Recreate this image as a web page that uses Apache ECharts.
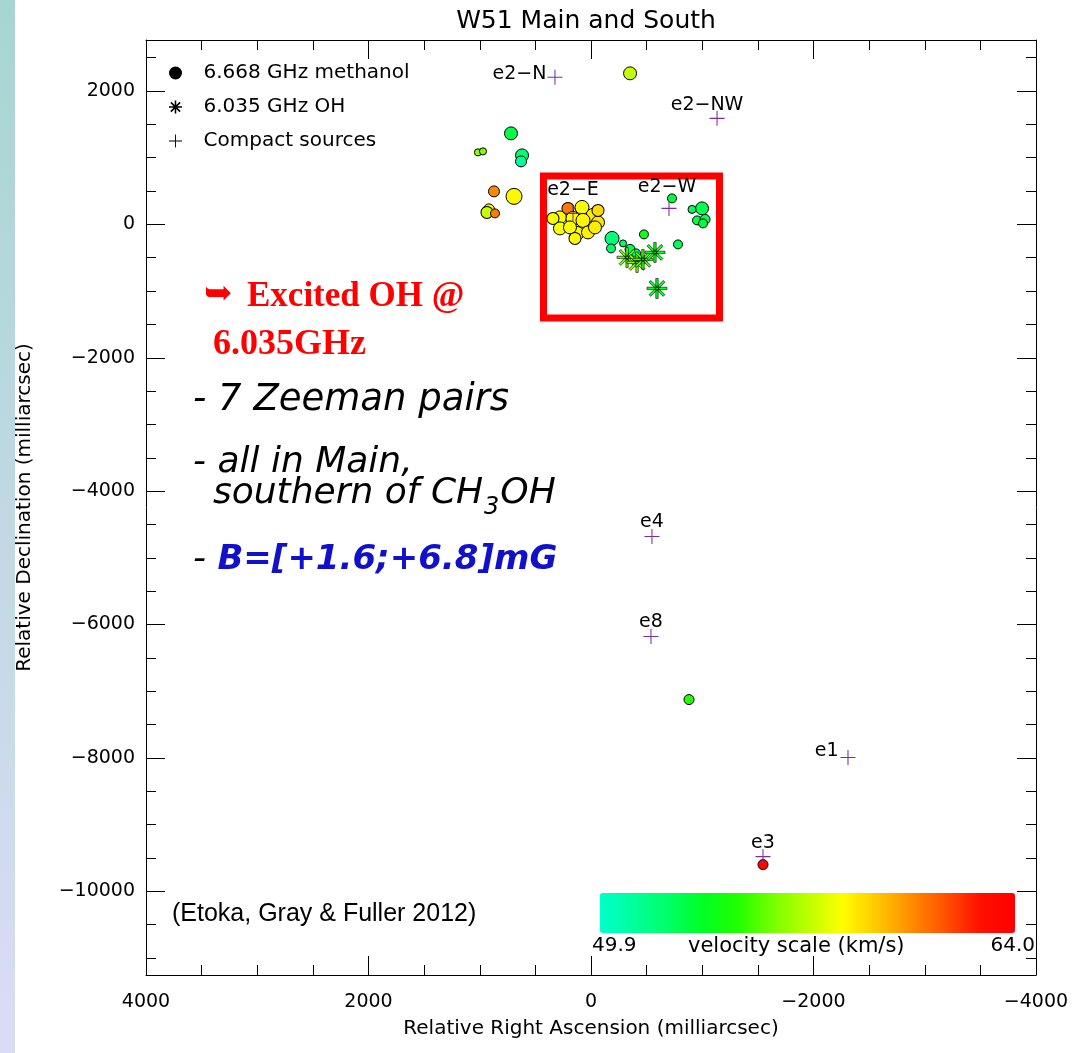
<!DOCTYPE html>
<html>
<head>
<meta charset="utf-8">
<script src="https://cdn.jsdelivr.net/npm/echarts@6/dist/echarts.min.js"></script>
<style>
html, body { margin: 0; padding: 0; background: #fff; }
#main { width: 1073px; height: 1053px; }
</style>
</head>
<body>
<div id="main"></div>
<script>
// 6.668 GHz methanol spots: RA / Dec offsets (mas), velocity (km/s), peak flux (Jy, rough)
var methRA   = [-351, 719, 1016, 971, 620, 629, 872, 692, 917, 935, 863,
                279, 207, 81, -18, 162, 72, 279, 126, 27, -63, -36, 342, 189, 144, -63,
                -728, -998, -908, -953, -1025, -1007,
                -476, -782, -189, -180, -288, -351, -405,
                -881, -1546];
var methDec  = [2265, 1365, 1080, 1095, 1035, 945, 495, 420, 225, 180, 165,
                105, 240, 255, 135, 90, 60, -60, -135, -120, 30, -45, 90, -45, -210, 210,
                390, 240, 225, 60, 75, 15,
                -150, -300, -210, -360, -285, -375, -435,
                -7125, -9600];
var methVel  = [57.1, 52.8, 56.3, 56.0, 52.0, 51.0, 60.6, 58.3, 58.4, 57.2, 60.8,
                58.2, 60.8, 58.0, 58.5, 58.1, 58.3, 58.0, 58.2, 58.4, 58.7, 58.5, 57.9, 58.1, 58.3, 58.9,
                53.0, 52.6, 52.3, 52.8, 52.4, 53.0,
                53.8, 52.6, 51.8, 52.2, 52.5, 52.4, 52.0,
                54.6, 63.6];
var methFlux = [7.8, 7.8, 0.2, 0.2, 7.8, 4, 4, 16, 4, 5.8, 1.4,
                7.8, 5.8, 10.2, 10.2, 10.2, 10.2, 7.8, 10.2, 7.8, 7.8, 7.8, 5.8, 7.8, 5.8, 5.8,
                1.4, 7.8, 0.64, 1.4, 2.6, 1.4,
                1.4, 1.4, 10.2, 1.4, 0.16, 2.6, 1.4,
                2.6, 2.6];

// 6.035 GHz OH spots
var ohRA  = [-324, -414, -467, -575, -593];
var ohDec = [-495, -570, -525, -420, -960];
var ohVel = [55.5, 56.0, 55.0, 53.8, 53.5];

// compact continuum sources
var srcNames = ['e2\u2212N', 'e2\u2212NW', 'e2\u2212E', 'e2\u2212W', 'e4', 'e8', 'e1', 'e3'];
var srcRA    = [324, -1133, 162, -701, -548, -539, -2310, -1546];
var srcDec   = [2205, 1590, 165, 240, -4680, -6180, -7995, -9480];

var velRange = [49.9, 64.0];
var raRange  = [-4000, 4000];
var decRange = [-11255, 2765];
var decMajor = [-10000, -8000, -6000, -4000, -2000, 0, 2000];
var decMinor = [-11000, -10500, -9500, -9000, -8500, -7500, -7000, -6500, -5500, -5000,
                -4500, -3500, -3000, -2500, -1500, -1000, -500, 500, 1000, 1500, 2500];
// red box round e2-E / e2-W (RA, Dec corners)
var boxCorners = [[427, 727], [-1155, -1402]];

var FONT = 'DejaVu Sans';
var starPath = 'path://M0,8.8H20V11.2H0Z M8.8,0H11.2V20H8.8Z M3.75,2.05L17.95,16.25L16.25,17.95L2.05,3.75Z M17.95,3.75L3.75,17.95L2.05,16.25L16.25,2.05Z';
var plusPath = 'path://M0,9.3H20V10.7H0Z M9.3,0H10.7V20H9.3Z';

var methData = methRA.map(function (ra, i) {
	return [ra, methDec[i], methVel[i], methFlux[i]];
});
var ohData = ohRA.map(function (ra, i) {
	return [ra, ohDec[i], ohVel[i]];
});
var labelPlace = {
	'e2\u2212N': { position: 'left', distance: 1, offset: [0, -3] },
	'e2\u2212NW': { position: 'top', distance: 0, offset: [-10, 4] },
	'e2\u2212E': { position: 'top', distance: 6, offset: [0, 0] },
	'e2\u2212W': { position: 'top', distance: 4, offset: [-2, 0] },
	'e1': { position: 'left', distance: 2, offset: [0, -7] }
};
var srcData = srcNames.map(function (n, i) {
	var lp = labelPlace[n] || { position: 'top', distance: 0, offset: [0, 3] };
	return {
		name: n,
		value: [srcRA[i], srcDec[i]],
		label: { position: lp.position, distance: lp.distance, offset: lp.offset }
	};
});

function minus(v) {
	return String(v).replace('-', '\u2212');
}

// measure text so the CH3OH subscript can be placed
var mctx = document.createElement('canvas').getContext('2d');
function textW(str, font) {
	mctx.font = font;
	return mctx.measureText(str).width;
}
var ITAL = 'italic 36px "DejaVu Sans"';
var SUB = 'italic 24px "DejaVu Sans"';
var subX = 213 + textW('southern of CH', ITAL) + 1;
var ohX = subX + textW('3', SUB) + 1;

var chart = echarts.init(document.getElementById('main'));

function yAx(pos, vals, len, withLine, withLabel) {
	return {
		type: 'value', position: pos, min: decRange[0], max: decRange[1],
		axisLine: { show: withLine, onZero: false, lineStyle: { color: '#000', width: 1 } },
		axisTick: { show: true, inside: true, length: len, customValues: vals,
			lineStyle: { color: '#000', width: 1 } },
		axisLabel: withLabel ? {
			show: true, customValues: decMajor, formatter: minus, margin: 11,
			color: '#000', fontFamily: FONT, fontSize: 19
		} : { show: false },
		splitLine: { show: false }
	};
}

function xAx(pos, withLabel) {
	return {
		type: 'value', position: pos, min: raRange[0], max: raRange[1], interval: 2000,
		inverse: true,
		axisLine: { show: true, onZero: false, lineStyle: { color: '#000', width: 1 } },
		axisTick: { show: true, inside: true, length: 19, lineStyle: { color: '#000', width: 1 } },
		minorTick: { show: true, splitNumber: 4, length: 10, lineStyle: { color: '#000', width: 1 } },
		axisLabel: withLabel ? {
			show: true, formatter: minus, margin: 18,
			color: '#000', fontFamily: FONT, fontSize: 19
		} : { show: false },
		splitLine: { show: false },
		minorSplitLine: { show: false }
	};
}

var xBottom = xAx('bottom', true);
xBottom.name = 'Relative Right Ascension (milliarcsec)';
xBottom.nameLocation = 'middle';
xBottom.nameGap = 44;
xBottom.nameTextStyle = { color: '#000', fontFamily: FONT, fontSize: 20 };

var yLeft = yAx('left', decMajor, 19, true, true);
yLeft.name = 'Relative Declination (milliarcsec)';
yLeft.nameLocation = 'middle';
yLeft.nameGap = 111;
yLeft.nameTextStyle = { color: '#000', fontFamily: FONT, fontSize: 20 };

var shadowGrey = { textShadowColor: 'rgba(0,0,0,0.3)', textShadowOffsetX: 2, textShadowOffsetY: 2 };
function ital(left, top, str, font) {
	return {
		type: 'text', left: left, top: top, z: 100,
		style: Object.assign({ text: str, fill: '#000', font: font }, shadowGrey)
	};
}

var option = {
	animation: false,
	backgroundColor: '#fff',
	title: {
		text: 'W51 Main and South',
		left: 581, top: 4, textAlign: 'center',
		textStyle: { color: '#000', fontFamily: FONT, fontSize: 25, fontWeight: 'normal' }
	},
	grid: { left: 146, right: 37, top: 40, bottom: 78, outerBoundsMode: 'none' },
	xAxis: [xBottom, xAx('top', false)],
	yAxis: [
		yLeft,
		yAx('left', decMinor, 10, false, false),
		yAx('right', decMajor, 19, true, false),
		yAx('right', decMinor, 10, false, false)
	],
	legend: {
		orient: 'vertical', left: 164, top: 58,
		itemWidth: 46, itemHeight: 13, itemGap: 14,
		selectedMode: false,
		textStyle: { color: '#000', fontFamily: FONT, fontSize: 20 },
		data: [
			{ name: '6.668 GHz methanol', icon: 'circle', itemStyle: { color: '#000', borderWidth: 0 } },
			{ name: '6.035 GHz OH', icon: starPath, itemStyle: { color: '#000', borderWidth: 0 } },
			{ name: 'Compact sources', icon: plusPath, itemStyle: { color: '#000', borderWidth: 0 } }
		]
	},
	visualMap: {
		type: 'continuous',
		min: velRange[0], max: velRange[1],
		dimension: 2, seriesIndex: [0, 1],
		orient: 'horizontal', left: 600, top: 893,
		itemWidth: 40, itemHeight: 415,
		padding: 0, calculable: false, hoverLink: false,
		inRange: {
			color: ['#00ffcc', '#00ff99', '#00ff66', '#00ff22', '#22ff00', '#77ff00', '#bbff00',
				'#ffff00', '#ffc800', '#ff8c00', '#ff5000', '#ff1000', '#ff0000']
		}
	},
	graphic: [
		{
			type: 'rect', left: 0, top: 0, z: -10,
			shape: { width: 15, height: 1053 },
			style: { fill: new echarts.graphic.LinearGradient(0, 0, 0, 1, [
				{ offset: 0, color: '#a7d5d1' }, { offset: 1, color: '#dadcf6' }]) }
		},
		{
			type: 'text', left: 204, top: 278, z: 100,
			style: { text: '\u27A5', fill: '#ff0000', font: '34px "DejaVu Sans"',
				textShadowColor: '#4a0000', textShadowOffsetX: 2, textShadowOffsetY: 2 }
		},
		{
			type: 'text', left: 247, top: 279, z: 100,
			style: { text: 'Excited OH @', fill: '#ff0000',
				font: 'bold 35px "Liberation Serif"',
				textShadowColor: '#4a0000', textShadowOffsetX: 2, textShadowOffsetY: 2 }
		},
		{
			type: 'text', left: 213, top: 327, z: 100,
			style: { text: '6.035GHz', fill: '#ff0000',
				font: 'bold 36px "Liberation Serif"',
				textShadowColor: '#4a0000', textShadowOffsetX: 2, textShadowOffsetY: 2 }
		},
		ital(193, 382, '- 7 Zeeman pairs', 'italic 37px "DejaVu Sans"'),
		ital(193, 445, '- all in Main,', ITAL),
		ital(213, 476, 'southern of CH', ITAL),
		ital(subX, 496, '3', SUB),
		ital(ohX, 476, 'OH', ITAL),
		{
			type: 'text', left: 193, top: 542, z: 100,
			style: {
				text: '{d|- }{b|B=[+1.6;+6.8]mG}',
				rich: {
					d: Object.assign({ fill: '#000', fontFamily: FONT, fontStyle: 'italic', fontSize: 36 }, shadowGrey),
					b: Object.assign({ fill: '#1111cc', fontFamily: FONT, fontStyle: 'italic', fontWeight: 'bold', fontSize: 34 }, shadowGrey)
				}
			}
		},
		{
			type: 'text', left: 172, top: 902, z: 100,
			style: { text: '(Etoka, Gray & Fuller 2012)', fill: '#000',
				font: '25px "Liberation Sans"' }
		},
		{
			type: 'text', left: 592, top: 936, z: 100,
			style: { text: '49.9', fill: '#000', font: '20px "DejaVu Sans"' }
		},
		{
			type: 'text', left: 688, top: 936, z: 100,
			style: { text: 'velocity scale (km/s)', fill: '#000', font: '21px "DejaVu Sans"' }
		},
		{
			type: 'text', right: 38, top: 936, z: 100,
			style: { text: '64.0', fill: '#000', font: '20px "DejaVu Sans"' }
		}
	],
	series: [
		{
			name: '6.668 GHz methanol',
			type: 'scatter',
			symbol: 'circle',
			symbolSize: function (v) { return 6 + 2.5 * Math.sqrt(v[3]); },
			itemStyle: { color: '#000', borderColor: '#000', borderWidth: 1, opacity: 1 },
			data: methData,
			z: 2
		},
		{
			name: '6.035 GHz OH',
			type: 'scatter',
			symbol: starPath,
			symbolSize: 20,
			itemStyle: { color: '#000', borderColor: '#000', borderWidth: 0.6, opacity: 1 },
			data: ohData,
			z: 3
		},
		{
			name: 'Compact sources',
			type: 'scatter',
			symbol: plusPath,
			symbolSize: 15,
			itemStyle: { color: '#7a2f9e', opacity: 1 },
			label: {
				show: true, formatter: '{b}',
				color: '#000', fontFamily: FONT, fontSize: 19
			},
			data: srcData,
			z: 4,
			markArea: {
				silent: true,
				label: { show: false },
				itemStyle: { color: 'rgba(0,0,0,0)', borderColor: '#ff0000', borderWidth: 7 },
				data: [[
					{ coord: boxCorners[0] },
					{ coord: boxCorners[1] }
				]]
			}
		}
	]
};

chart.setOption(option);
</script>
</body>
</html>
